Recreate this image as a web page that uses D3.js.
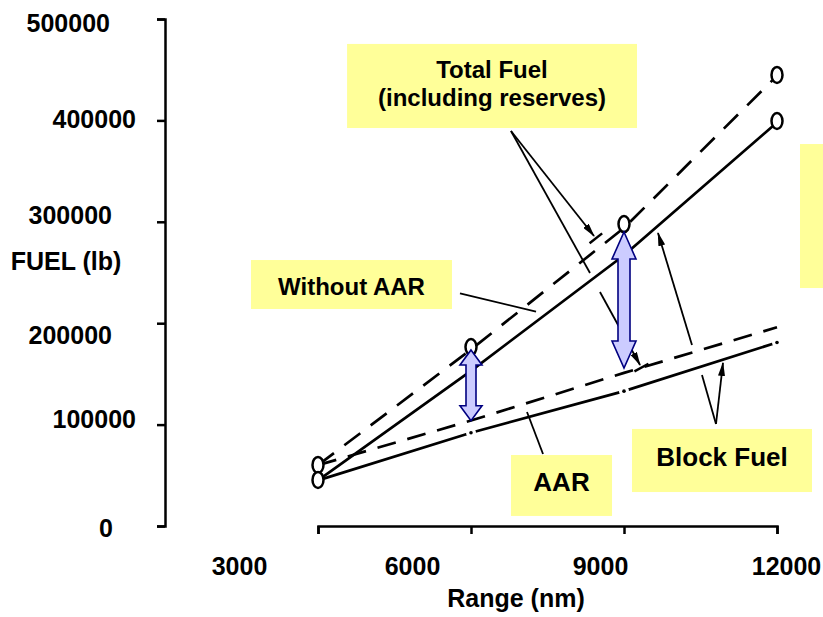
<!DOCTYPE html>
<html>
<head>
<meta charset="utf-8">
<script src="https://cdn.jsdelivr.net/npm/d3@7/dist/d3.min.js"></script>
<style>
  body { margin: 0; background: #fff; }
  svg { display: block; font-family: "Liberation Sans", Arial, sans-serif; font-weight: bold; }
</style>
</head>
<body>
<svg id="chart"></svg>
<script>
// range (nm) where the curves were read
var ranges = [3000, 6000, 9000, 12000]

// fuel (lb) for each curve
var totalNoAAR = [60000, 174000, 294000, 444000]
var blockNoAAR = [45000, 153000, 267000, 398000]
var totalAAR   = [60000, 104000, 151000, 196000]
var blockAAR   = [45000, 92000, 133000, 181000]

var xTicks = [3000, 6000, 9000, 12000]
var yTicks = [0, 100000, 200000, 300000, 400000, 500000]

// hand drawn circles on the curves [range, fuel]
var circlePts = [[3000, 60200], [3000, 45400], [6000, 176500], [9000, 297800], [12000, 444800], [12000, 399400]]

// blue double arrows [range, fuel top, fuel bottom]
var gapArrows = [[6000, 173600, 103800], [9000, 289900, 155800]]

// callouts, in chart units: [range from, range to, fuel top, fuel bottom]
var calloutBoxes = [
    [3570, 9255, 475400, 392500],
    [1686, 5627, 262300, 214000],
    [12451, 13300, 376700, 234700],
    [6784, 8765, 70000, 9900],
    [9157, 12686, 95700, 33500]
]
var calloutText = [
    ["Total Fuel", 6412, 441800],
    ["(including reserves)", 6412, 414200],
    ["Without AAR", 3657, 227800],
    ["AAR", 7775, 34500],
    ["Block Fuel", 10922, 59200]
]
var calloutSize = [24, 24, 24, 26, 26]

// leader lines [from, to, end]
var leaders = [
    [[5784, 229300], [7275, 211500], "none"],
    [[7412, 71000], [7098, 112400], "none"],
    [[6784, 389500], [8412, 286000], "bar"],
    [[6784, 389500], [8333, 249500], "none"],
    [[8529, 230800], [9314, 158800], "bar"],
    [[10804, 100600], [10529, 148900], "none"],
    [[10333, 178500], [9667, 289000], "arrow"],
    [[10804, 100600], [10941, 160800], "arrow"]
]

var dimensions = { width: 823, height: 617 }

var svg = d3.select("#chart")
            .attr("width", dimensions.width)
            .attr("height", dimensions.height)

var xScale = d3.scaleLinear().domain([3000, 12000]).range([318, 777])
var yScale = d3.scaleLinear().domain([0, 500000]).range([526, 19])

var defs = svg.append("defs")
defs.append("marker")
    .attr("id", "head")
    .attr("viewBox", "0 0 14 7")
    .attr("refX", 13).attr("refY", 3.5)
    .attr("markerWidth", 14).attr("markerHeight", 7)
    .attr("markerUnits", "userSpaceOnUse")
    .attr("orient", "auto")
    .append("path").attr("d", "M0,0L14,3.5L0,7Z").attr("fill", "black")

// yellow boxes
svg.append("g")
   .selectAll("rect")
   .data(calloutBoxes)
   .enter()
   .append("rect")
   .attr("x", d => xScale(d[0]))
   .attr("y", d => yScale(d[2]))
   .attr("width", d => xScale(d[1]) - xScale(d[0]))
   .attr("height", d => yScale(d[3]) - yScale(d[2]))
   .attr("fill", "#ffff99")

// axes
var yLabelShift = {0: [-44, 2], 100000: [-21, -5.6], 200000: [-45, 11.8], 300000: [-45, -6.8], 400000: [-21, -1.4], 500000: [-47, 4]}
var xLabelShift = {3000: -79, 6000: -59, 9000: -24, 12000: 9}

var yAxisGen = d3.axisLeft(yScale).tickValues(yTicks).tickSize(8).tickPadding(0).tickFormat(d3.format("d"))
var yAxis = svg.append("g")
               .attr("transform", `translate(165,0)`)
               .call(yAxisGen)
yAxis.selectAll("text")
     .attr("dx", d => yLabelShift[d][0])
     .attr("transform", d => `translate(0,${yLabelShift[d][1]})`)

var xAxisGen = d3.axisBottom(xScale).tickValues(xTicks).tickSize(8).tickPadding(23).tickFormat(d3.format("d"))
var xAxis = svg.append("g")
               .attr("transform", `translate(0,${yScale(0)})`)
               .call(xAxisGen)
xAxis.selectAll("text").attr("dx", d => xLabelShift[d])

svg.selectAll(".domain, .tick line").attr("stroke", "black").attr("stroke-width", 2.5)
svg.selectAll(".tick text")
   .attr("fill", "black")
   .style("font-size", "25px")
   .style("font-family", "'Liberation Sans', Arial, sans-serif")
   .style("font-weight", "bold")

svg.append("text")
   .text("FUEL (lb)")
   .attr("x", 66).attr("y", 270)
   .attr("text-anchor", "middle")
   .style("font-size", "25px")

svg.append("text")
   .text("Range (nm)")
   .attr("x", 516).attr("y", 607)
   .attr("text-anchor", "middle")
   .style("font-size", "25px")

// curves
var line = d3.line().x(d => xScale(d[0])).y(d => yScale(d[1]))

var curves = [
    { values: totalNoAAR, dash: "20,13" },
    { values: blockNoAAR, dash: null },
    { values: totalAAR, dash: "19,12" },
    { values: blockAAR, dash: null }
]

svg.append("g")
   .selectAll("path")
   .data(curves)
   .enter()
   .append("path")
   .attr("d", d => line(ranges.map((r, i) => [r, d.values[i]])))
   .attr("fill", "none")
   .attr("stroke", "black")
   .attr("stroke-width", 2.7)
   .attr("stroke-dasharray", d => d.dash)

// dash-dot breaks on the AAR block fuel curve
var breaks = svg.append("g")
breaks.selectAll("circle.gap")
      .data(ranges.slice(1))
      .enter()
      .append("circle")
      .attr("cx", d => xScale(d))
      .attr("cy", (d, i) => yScale(blockAAR[i + 1]))
      .attr("r", 5)
      .attr("fill", "white")
breaks.selectAll("circle.dot")
      .data(ranges.slice(1))
      .enter()
      .append("circle")
      .attr("cx", d => xScale(d))
      .attr("cy", (d, i) => yScale(blockAAR[i + 1]))
      .attr("r", 1.8)
      .attr("fill", "black")

// leader lines
var leaderG = svg.append("g")
leaders.forEach(function(l) {
    var x1 = xScale(l[0][0]), y1 = yScale(l[0][1])
    var x2 = xScale(l[1][0]), y2 = yScale(l[1][1])
    leaderG.append("line")
           .attr("x1", x1).attr("y1", y1)
           .attr("x2", x2).attr("y2", y2)
           .attr("stroke", "black")
           .attr("stroke-width", 1.8)
           .attr("marker-end", l[2] == "none" ? null : "url(#head)")
    if (l[2] == "bar") {
        var len = Math.hypot(x2 - x1, y2 - y1)
        var ux = (x2 - x1) / len, uy = (y2 - y1) / len
        var cx = x2 + ux * 3, cy = y2 + uy * 3
        leaderG.append("line")
               .attr("x1", cx - uy * 8).attr("y1", cy + ux * 8)
               .attr("x2", cx + uy * 8).attr("y2", cy - ux * 8)
               .attr("stroke", "black")
               .attr("stroke-width", 2.5)
    }
})

// circles
svg.append("g")
   .selectAll("ellipse")
   .data(circlePts)
   .enter()
   .append("ellipse")
   .attr("cx", d => xScale(d[0]))
   .attr("cy", d => yScale(d[1]))
   .attr("rx", 5.5)
   .attr("ry", 8)
   .attr("fill", "white")
   .attr("stroke", "black")
   .attr("stroke-width", 2.5)

// blue double arrows
function dblArrow(x, y1, y2, shaftW, headW, headLen) {
    var s = shaftW / 2, h = headW / 2
    return `M${x},${y1}L${x + h},${y1 + headLen}L${x + s},${y1 + headLen}L${x + s},${y2 - headLen}` +
           `L${x + h},${y2 - headLen}L${x},${y2}L${x - h},${y2 - headLen}L${x - s},${y2 - headLen}` +
           `L${x - s},${y1 + headLen}L${x - h},${y1 + headLen}Z`
}
var arrowSize = [[10, 22, 15], [12, 24, 27]]

svg.append("g")
   .selectAll("path")
   .data(gapArrows)
   .enter()
   .append("path")
   .attr("d", (d, i) => dblArrow(xScale(d[0]), yScale(d[1]), yScale(d[2]), arrowSize[i][0], arrowSize[i][1], arrowSize[i][2]))
   .attr("fill", "#ccccff")
   .attr("stroke", "#000080")
   .attr("stroke-width", 1.6)

// callout text
svg.append("g")
   .selectAll("text")
   .data(calloutText)
   .enter()
   .append("text")
   .text(d => d[0])
   .attr("x", d => xScale(d[1]))
   .attr("y", d => yScale(d[2]))
   .attr("text-anchor", "middle")
   .style("font-size", (d, i) => calloutSize[i] + "px")
</script>
</body>
</html>
